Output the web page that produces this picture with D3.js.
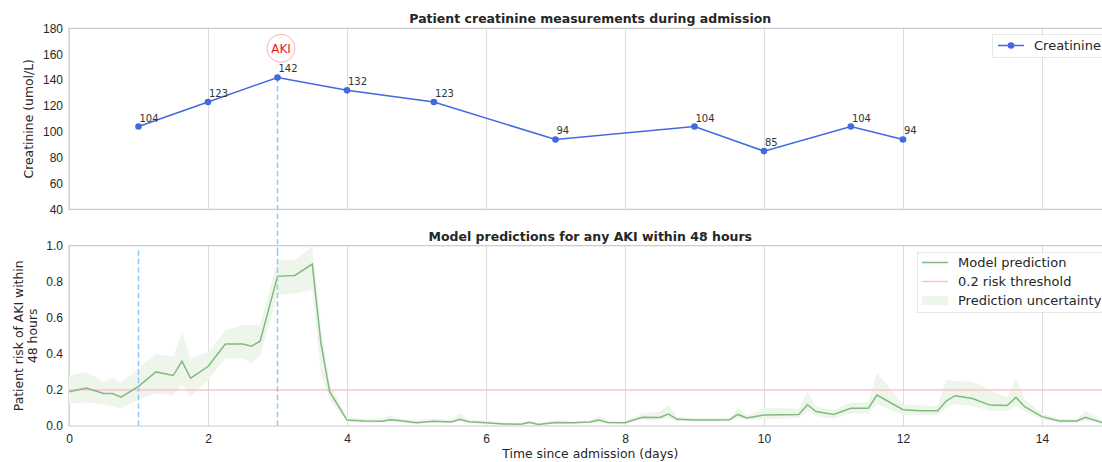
<!DOCTYPE html>
<html>
<head>
<meta charset="utf-8">
<script src="https://cdn.jsdelivr.net/npm/d3@7"></script>
<style>
  body { margin: 0; background: #fff; }
  svg { font-family: "DejaVu Sans", sans-serif; }
</style>
</head>
<body>
<svg id="chart" width="1102" height="462"></svg>
<script>
// creatinine measurements
const creatDays = [1, 2, 3, 4, 5.25, 7, 9, 10, 11.25, 12];
const creatValues = [104, 123, 142, 132, 123, 94, 104, 85, 104, 94];

// model predictions (time in days)
const predDays = [0, 0.25, 0.5, 0.625, 0.75, 1.0, 1.25, 1.5, 1.625, 1.75, 2.0, 2.25, 2.5, 2.625, 2.75,
  3.0, 3.25, 3.5, 3.625, 3.75, 4.0, 4.25, 4.5, 4.625, 4.75, 5.0, 5.25, 5.5, 5.625, 5.75,
  6.0, 6.25, 6.5, 6.625, 6.75, 7.0, 7.25, 7.5, 7.625, 7.75, 8.0, 8.25, 8.5, 8.625, 8.75,
  9.0, 9.25, 9.5, 9.625, 9.75, 10.0, 10.25, 10.5, 10.625, 10.75, 11.0, 11.25, 11.5, 11.625,
  12.0, 12.25, 12.5, 12.625, 12.75, 13.0, 13.25, 13.5, 13.625, 13.75, 14.0, 14.25, 14.5, 14.625, 14.875];
const predValues = [0.19, 0.21, 0.18, 0.18, 0.16, 0.22, 0.30, 0.28, 0.36, 0.265, 0.33, 0.455, 0.455, 0.443, 0.47,
  0.83, 0.835, 0.898, 0.46, 0.19, 0.033, 0.028, 0.026, 0.035, 0.03, 0.018, 0.027, 0.022, 0.037, 0.024,
  0.018, 0.011, 0.01, 0.02, 0.008, 0.02, 0.018, 0.022, 0.033, 0.02, 0.018, 0.048, 0.047, 0.066, 0.037,
  0.033, 0.033, 0.034, 0.064, 0.045, 0.061, 0.062, 0.064, 0.118, 0.08, 0.064, 0.098, 0.098, 0.172,
  0.09, 0.085, 0.085, 0.14, 0.168, 0.152, 0.116, 0.114, 0.159, 0.107, 0.052, 0.028, 0.028, 0.048, 0.018];
const predLower = [0.125, 0.13, 0.12, 0.11, 0.098, 0.145, 0.18, 0.17, 0.23, 0.16, 0.255, 0.375, 0.375, 0.35, 0.39,
  0.727, 0.735, 0.754, 0.29, 0.144, 0.025, 0.02, 0.02, 0.025, 0.02, 0.012, 0.02, 0.015, 0.025, 0.015,
  0.012, 0.006, 0.005, 0.012, 0.004, 0.012, 0.012, 0.015, 0.02, 0.012, 0.012, 0.035, 0.035, 0.045, 0.028,
  0.025, 0.025, 0.025, 0.045, 0.033, 0.037, 0.04, 0.045, 0.08, 0.055, 0.04, 0.07, 0.07, 0.12,
  0.06, 0.06, 0.06, 0.1, 0.12, 0.11, 0.085, 0.085, 0.11, 0.08, 0.035, 0.018, 0.018, 0.03, 0.01];
const predUpper = [0.28, 0.30, 0.245, 0.27, 0.24, 0.32, 0.40, 0.385, 0.52, 0.375, 0.41, 0.53, 0.56, 0.56, 0.56,
  0.92, 0.92, 0.995, 0.55, 0.237, 0.05, 0.04, 0.04, 0.06, 0.04, 0.03, 0.04, 0.035, 0.074, 0.035,
  0.03, 0.02, 0.018, 0.03, 0.016, 0.03, 0.028, 0.032, 0.055, 0.03, 0.028, 0.07, 0.08, 0.116, 0.05,
  0.045, 0.045, 0.045, 0.1, 0.06, 0.1, 0.1, 0.095, 0.19, 0.11, 0.09, 0.13, 0.13, 0.295,
  0.12, 0.115, 0.11, 0.26, 0.25, 0.245, 0.2, 0.16, 0.268, 0.15, 0.07, 0.04, 0.04, 0.085, 0.03];

const threshold = 0.2;
const predictionMarkDays = [1, 3];   // dashed markers in the prediction panel
const akiDays = [3];                 // AKI events, marked in the creatinine panel too
const xTicks = [0, 2, 4, 6, 8, 10, 12, 14];
const creatTicks = [40, 60, 80, 100, 120, 140, 160, 180];
const riskTicks = [0, 0.2, 0.4, 0.6, 0.8, 1.0];

const svg = d3.select("#chart");
const left = 69, right = 1111.5;
const top1 = 28.3, bot1 = 209.3, top2 = 245.7, bot2 = 426;
const textColor = "#262626", gridColor = "#dcdcdc";

const x = d3.scaleLinear().domain([0, 15]).range([left, right]);
const y1 = d3.scaleLinear().domain([40, 180]).range([bot1, top1]);
const y2 = d3.scaleLinear().domain([0, 1]).range([bot2, top2]);

function frame(yScale, ticks, fmt, top, bot, showX) {
  // vertical grid
  svg.append("g")
    .attr("transform", `translate(0,${bot})`)
    .call(d3.axisBottom(x).tickValues(xTicks).tickSize(-(bot - top)).tickFormat(showX ? d3.format("d") : ""))
    .call(g => g.select(".domain").remove())
    .call(g => g.selectAll("line").attr("stroke", gridColor).attr("stroke-width", 1))
    .call(g => g.selectAll("text").attr("fill", textColor).style("font-size", "12px").attr("dy", "0.95em"))
    .call(g => g.selectAll(".tick text").attr("y", 6));
  // y axis labels
  svg.append("g")
    .attr("transform", `translate(${left},0)`)
    .call(d3.axisLeft(yScale).tickValues(ticks).tickSize(0).tickPadding(6).tickFormat(fmt))
    .call(g => g.select(".domain").remove())
    .call(g => g.selectAll("text").attr("fill", textColor).style("font-size", "12px"));
  // spines
  svg.append("path")
    .attr("d", `M${right},${top}H${left}V${bot}H${right}`)
    .attr("fill", "none").attr("stroke", "#cccccc").attr("stroke-width", 1.2);
}

frame(y1, creatTicks, d3.format("d"), top1, bot1, false);
frame(y2, riskTicks, d3.format(".1f"), top2, bot2, true);

// titles
svg.append("text").attr("x", (left + right) / 2).attr("y", 23).attr("text-anchor", "middle")
  .style("font-size", "12.5px").style("font-weight", "bold").attr("fill", textColor)
  .text("Patient creatinine measurements during admission");
svg.append("text").attr("x", (left + right) / 2).attr("y", 240.5).attr("text-anchor", "middle")
  .style("font-size", "12.5px").style("font-weight", "bold").attr("fill", textColor)
  .text("Model predictions for any AKI within 48 hours");

// axis labels
svg.append("text").attr("transform", `translate(33,${(top1 + bot1) / 2}) rotate(-90)`)
  .attr("text-anchor", "middle").style("font-size", "12.4px").attr("fill", textColor)
  .text("Creatinine (umol/L)");
const yl2 = svg.append("text").attr("transform", `translate(23,${(top2 + bot2) / 2}) rotate(-90)`)
  .attr("text-anchor", "middle").style("font-size", "12.4px").attr("fill", textColor);
yl2.append("tspan").attr("x", 0).attr("y", 0).text("Patient risk of AKI within");
yl2.append("tspan").attr("x", 0).attr("y", 13.8).text("48 hours");
svg.append("text").attr("x", (left + right) / 2).attr("y", 458).attr("text-anchor", "middle")
  .style("font-size", "12.4px").attr("fill", textColor).text("Time since admission (days)");

// bottom chart content
const pred = predDays.map((d, i) => ({ t: d, v: predValues[i], lo: predLower[i], hi: predUpper[i] }));
svg.append("path").datum(pred)
  .attr("d", d3.area().x(d => x(d.t)).y0(d => y2(d.lo)).y1(d => y2(d.hi)))
  .attr("fill", "#eef6ec");
svg.append("line")
  .attr("x1", left).attr("x2", right).attr("y1", y2(threshold)).attr("y2", y2(threshold))
  .attr("stroke", "#ffc0cb").attr("stroke-width", 1.5);
svg.append("path").datum(pred)
  .attr("d", d3.line().x(d => x(d.t)).y(d => y2(d.v)))
  .attr("fill", "none").attr("stroke", "#80ba7f").attr("stroke-width", 1.5);

// dashed markers
const dash = { stroke: "#8ec9f5", width: 1.5, pattern: "5.5,3" };
predictionMarkDays.forEach(d => {
  svg.append("line")
    .attr("x1", x(d)).attr("x2", x(d)).attr("y1", y2(0.975)).attr("y2", bot2)
    .attr("stroke", dash.stroke).attr("stroke-width", dash.width).attr("stroke-dasharray", dash.pattern);
});
akiDays.forEach(d => {
  const v = creatValues[creatDays.indexOf(d)];
  svg.append("line")
    .attr("x1", x(d)).attr("x2", x(d)).attr("y1", y1(v)).attr("y2", y2(0.975))
    .attr("stroke", dash.stroke).attr("stroke-width", dash.width).attr("stroke-dasharray", dash.pattern);
});

// creatinine line
const creat = creatDays.map((d, i) => ({ t: d, v: creatValues[i] }));
svg.append("path").datum(creat)
  .attr("d", d3.line().x(d => x(d.t)).y(d => y1(d.v)))
  .attr("fill", "none").attr("stroke", "#4169e1").attr("stroke-width", 1.5);
svg.append("g").selectAll("circle").data(creat).join("circle")
  .attr("cx", d => x(d.t)).attr("cy", d => y1(d.v)).attr("r", 3.3).attr("fill", "#4169e1");
svg.append("g").selectAll("text").data(creat).join("text")
  .attr("x", d => x(d.t) + 1).attr("y", d => y1(d.v) - 5)
  .style("font-size", "10px").attr("fill", "#333").text(d => d.v);

// AKI label
akiDays.forEach(d => {
  svg.append("circle").attr("cx", x(d) + 3.5).attr("cy", 48.3).attr("r", 14)
    .attr("fill", "#fff").attr("stroke", "#ff9c9c").attr("stroke-width", 0.8);
  svg.append("text").attr("x", x(d) + 3.5).attr("y", 52.5).attr("text-anchor", "middle")
    .style("font-size", "12px").attr("fill", "#f0141e").text("AKI");
});

// legends
const lg1 = svg.append("g");
lg1.append("rect").attr("x", 992.5).attr("y", 34.5).attr("width", 130).attr("height", 23)
  .attr("fill", "#fff").attr("fill-opacity", 0.8).attr("stroke", "#e6e6e6");
lg1.append("line").attr("x1", 998).attr("x2", 1024).attr("y1", 45.5).attr("y2", 45.5)
  .attr("stroke", "#4169e1").attr("stroke-width", 1.5);
lg1.append("circle").attr("cx", 1011).attr("cy", 45.5).attr("r", 3.3).attr("fill", "#4169e1");
lg1.append("text").attr("x", 1034).attr("y", 50).style("font-size", "13px").attr("fill", textColor).text("Creatinine");

const lg2 = svg.append("g");
lg2.append("rect").attr("x", 917.5).attr("y", 252.5).attr("width", 200).attr("height", 60)
  .attr("fill", "#fff").attr("fill-opacity", 0.8).attr("stroke", "#e6e6e6");
lg2.append("line").attr("x1", 922).attr("x2", 948).attr("y1", 262.5).attr("y2", 262.5)
  .attr("stroke", "#80ba7f").attr("stroke-width", 1.5);
lg2.append("line").attr("x1", 922).attr("x2", 948).attr("y1", 281.5).attr("y2", 281.5)
  .attr("stroke", "#ffc0cb").attr("stroke-width", 1.5);
lg2.append("rect").attr("x", 922).attr("y", 296).attr("width", 26).attr("height", 9).attr("fill", "#eef6ec");
[["Model prediction", 267], ["0.2 risk threshold", 286], ["Prediction uncertainty", 305]].forEach(([t, yy]) => {
  lg2.append("text").attr("x", 958).attr("y", yy).style("font-size", "13px").attr("fill", textColor).text(t);
});
</script>
</body>
</html>
